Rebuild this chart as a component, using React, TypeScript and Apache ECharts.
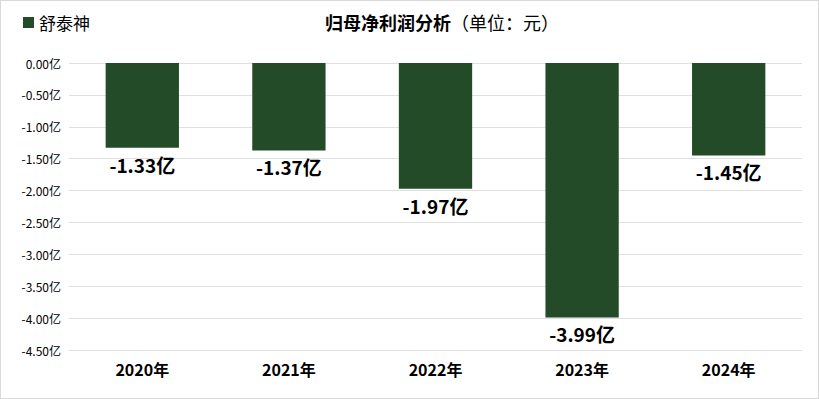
import React, { useEffect, useRef } from "react";
import * as echarts from "echarts";

const categories = ["2020年", "2021年", "2022年", "2023年", "2024年"];
const values = [-1.33, -1.37, -1.97, -3.99, -1.45];
const seriesName = "舒泰神";
const titleMain = "归母净利润分析";
const titleUnit = "（单位：元）";

const FONT = "'Noto Sans CJK SC', 'Microsoft YaHei', sans-serif";
const BAR = "#244B28";

export default function App() {
  const ref = useRef<HTMLDivElement>(null);
  useEffect(() => {
    document.body.style.margin = "0";
    const chart = echarts.init(ref.current!, null, { renderer: "svg" });
    chart.setOption({
      animation: false,
      textStyle: { fontFamily: FONT },
      title: {
        text: `{b|${titleMain}}{n|${titleUnit}}`,
        left: 436,
        top: 7,
        textAlign: "center",
        textStyle: {
          rich: {
            b: { fontSize: 18, fontWeight: "bold", color: "#000", fontFamily: FONT },
            n: { fontSize: 18, fontWeight: "normal", color: "#000", fontFamily: FONT },
          },
        },
      },
      legend: {
        left: 17,
        top: 8,
        itemWidth: 11,
        itemHeight: 11,
        itemGap: 7,
        icon: "rect",
        textStyle: { fontSize: 17, color: "#000", fontFamily: FONT },
        data: [seriesName],
      },
      grid: { left: 68, right: 16, top: 62, bottom: 48, containLabel: false },
      xAxis: {
        type: "category",
        data: categories,
        position: "bottom",
        axisLine: { show: false },
        axisTick: { show: false },
        axisLabel: {
          fontSize: 16,
          fontWeight: "bold",
          color: "#000",
          margin: 11,
        },
      },
      yAxis: {
        type: "value",
        min: -4.5,
        max: 0,
        interval: 0.5,
        axisLine: { show: false },
        axisTick: { show: false },
        splitLine: { lineStyle: { color: "#e0e0e0", width: 1 } },
        axisLabel: {
          fontSize: 12,
          color: "#000",
          margin: 8,
          formatter: (v: number) => v.toFixed(2) + "亿",
        },
      },
      series: [
        {
          name: seriesName,
          type: "bar",
          data: values,
          barWidth: "50%",
          itemStyle: { color: BAR },
          label: {
            show: true,
            position: "bottom",
            distance: 7,
            fontSize: 19,
            fontWeight: "bold",
            color: "#000",
            formatter: (p: any) => p.value.toFixed(2) + "亿",
          },
        },
      ],
    });
    return () => chart.dispose();
  }, []);
  return (
    <div
      style={{
        position: "fixed",
        left: 0,
        top: 0,
        width: 819,
        height: 399,
        boxSizing: "border-box",
        border: "1px solid #d9d9d9",
        background: "#fff",
      }}
    >
      <div ref={ref} style={{ width: 817, height: 397 }} />
    </div>
  );
}
